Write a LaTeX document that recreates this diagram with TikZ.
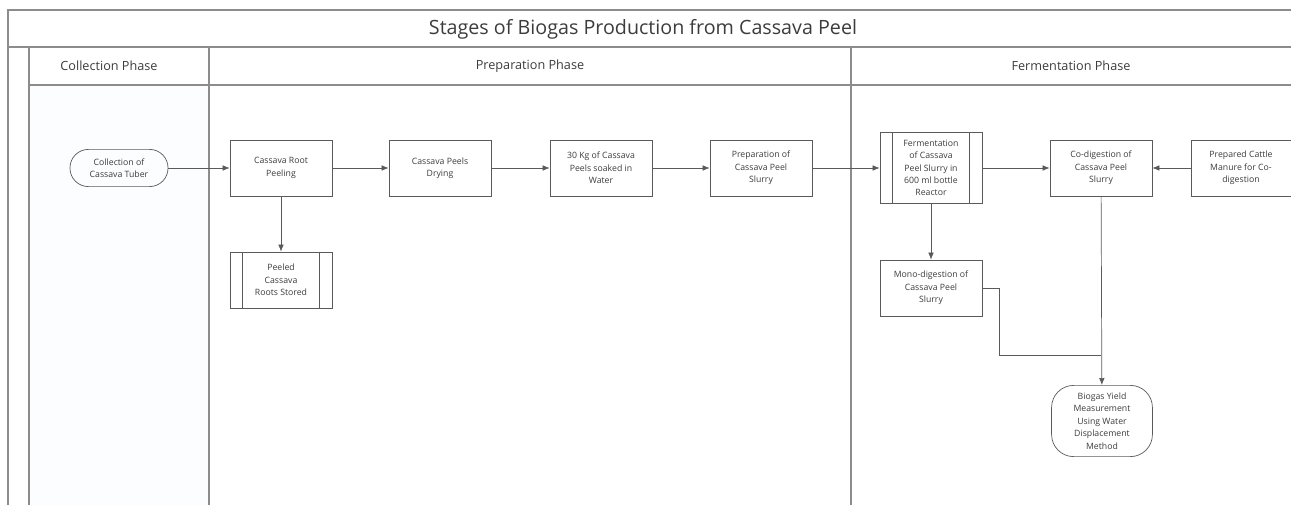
\documentclass[tikz,border=0pt]{standalone}
\usepackage{fontspec}
\setmainfont{Open Sans}
\usetikzlibrary{arrows.meta,calc}
\definecolor{lanegray}{HTML}{8C8C8C}
\definecolor{boxgray}{HTML}{5A5A5A}
\definecolor{txtgray}{HTML}{3C3C3C}
\definecolor{lanefill}{HTML}{FBFDFE}

\begin{document}
\begin{tikzpicture}[x=0.025cm,y=-0.025cm,
    lane/.style={draw=lanegray, line width=0.9pt},
    proc/.style={draw=boxgray, line width=0.5pt, text=txtgray, align=center,
        minimum width=2.55cm, minimum height=1.4cm, inner sep=1pt,
        font=\fontsize{6.2}{8.8}\selectfont},
    flow/.style={draw=boxgray, line width=0.5pt, -{Latex[length=5pt,width=4pt]}}
]
    \useasboundingbox (0,0) rectangle (1291,505);

    % pool and lanes
    \fill[lanefill] (29,85) rectangle (209,505);
    \draw[lane] (1291,10) -- (8,10) -- (8,505);
    \draw[lane] (8,47) -- (1291,47);
    \draw[lane] (29,47) -- (29,505);
    \draw[lane] (29,85) -- (1291,85);
    \draw[lane] (209,47) -- (209,505);
    \draw[lane] (851,47) -- (851,505);

    \node[text=txtgray, font=\fontsize{14}{16}\selectfont] (title) at (643,29) {Stages of Biogas Production from Cassava Peel};
    \node[text=txtgray, font=\fontsize{9}{11}\selectfont] (hcoll) at (109,66) {Collection Phase};
    \node[text=txtgray, font=\fontsize{9}{11}\selectfont] (hprep) at (530,66) {Preparation Phase};
    \node[text=txtgray, font=\fontsize{9}{11}\selectfont] (hferm) at (1071,66) {Fermentation Phase};

    % steps
    \node[proc, rounded corners=0.46cm, minimum width=2.45cm, minimum height=0.93cm] (tuber) at (119,168) {Collection of\\Cassava Tuber};
    \node[proc] (peel) at (281,168) {Cassava Root\\Peeling};
    \node[proc] (stored) at (281,280) {Peeled\\Cassava\\Roots Stored};
    \node[proc] (dry) at (440,168) {Cassava Peels\\Drying};
    \node[proc] (soak) at (601,168) {30 Kg of Cassava\\Peels soaked in\\Water};
    \node[proc] (slurry) at (761,168) {Preparation of\\Cassava Peel\\Slurry};
    \node[proc, minimum height=1.78cm] (ferm) at (931,168) {Fermentation\\of Cassava\\Peel Slurry in\\600 ml bottle\\Reactor};
    \node[proc] (codig) at (1101,168) {Co-digestion of\\Cassava Peel\\Slurry};
    \node[proc, minimum width=2.5cm] (manure) at (1241,168) {Prepared Cattle\\Manure for Co-\\digestion};
    \node[proc] (mono) at (931,288) {Mono-digestion of\\Cassava Peel\\Slurry};
    \node[proc, rounded corners=0.55cm, minimum width=2.52cm, minimum height=1.78cm] (yield) at (1102,421) {Biogas Yield\\Measurement\\Using Water\\Displacement\\Method};

    % inner bars of the stored boxes
    \foreach \n in {stored,ferm} {
        \draw[boxgray, line width=0.5pt] ([xshift=0.32cm]\n.north west) -- ([xshift=0.32cm]\n.south west);
        \draw[boxgray, line width=0.5pt] ([xshift=-0.32cm]\n.north east) -- ([xshift=-0.32cm]\n.south east);
    }

    % connectors
    \draw[flow] (tuber) -- (peel);
    \draw[flow] (peel) -- (dry);
    \draw[flow] (dry) -- (soak);
    \draw[flow] (soak) -- (slurry);
    \draw[flow] (slurry) -- (ferm);
    \draw[flow] (ferm) -- (codig);
    \draw[flow] (manure) -- (codig);
    \draw[flow] (peel) -- (stored);
    \draw[flow] (ferm) -- (mono);
    \coordinate (drop) at (999,355);
    \draw[boxgray, line width=0.5pt] (mono.east) -| (drop) -- (codig.south |- drop);
    \draw[flow] (codig) -- (yield);

\end{tikzpicture}
\end{document}
